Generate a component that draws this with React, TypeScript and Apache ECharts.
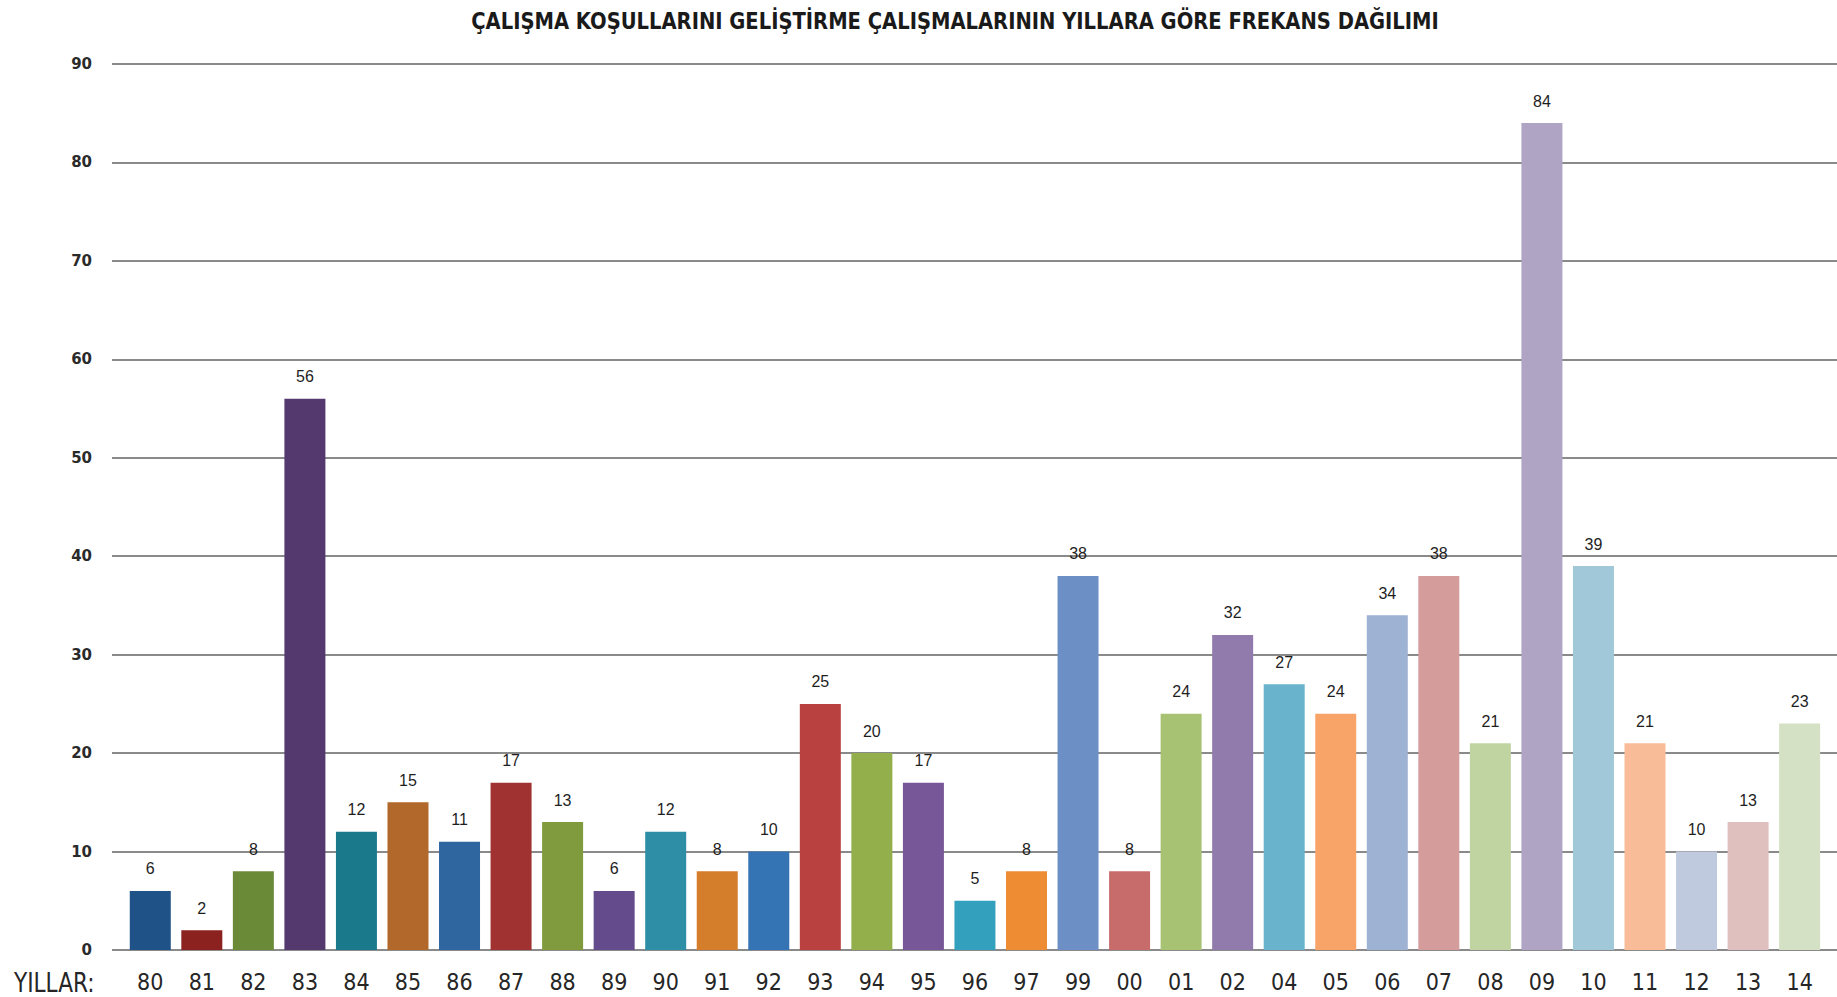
import React, { useEffect, useRef } from "react";
import * as echarts from "echarts";

const titleText = "ÇALIŞMA KOŞULLARINI GELİŞTİRME ÇALIŞMALARININ YILLARA GÖRE FREKANS DAĞILIMI";
const axisCaption = "YILLAR:";
const years = ["80","81","82","83","84","85","86","87","88","89","90","91","92","93","94","95","96","97","99","00","01","02","04","05","06","07","08","09","10","11","12","13","14"];
const counts = [6,2,8,56,12,15,11,17,13,6,12,8,10,25,20,17,5,8,38,8,24,32,27,24,34,38,21,84,39,21,10,13,23];
const barColors = [
  "#1F5287","#8B2220","#6B8A37","#53396E","#1A7A8C","#B2682A","#2F66A0","#A03331","#7F9B3E","#634B8C","#2E8EA6",
  "#D47D2A","#3574B4","#B94240","#93AF4C","#775797","#33A1BE","#EE8C34","#6C90C6","#C86C6B","#A8C274","#917BAC",
  "#69B4CC","#F8A468","#9EB2D4","#D49C9B","#C0D4A2","#AFA4C3","#A0C8D8","#F9BC99","#BFCADF","#E0BFBF","#D5E1C4"
];
const yMin = 0;
const yMax = 90;
const yStep = 10;

const narrow = "'Liberation Sans Narrow', 'DejaVu Sans Condensed', 'Liberation Sans', sans-serif";

export default function App() {
  const ref = useRef<HTMLDivElement>(null);
  useEffect(() => {
    if (!ref.current) return;
    const chart = echarts.init(ref.current, undefined, { renderer: "svg" });
    chart.setOption({
      animation: false,
      backgroundColor: "#ffffff",
      graphic: [
        {
          type: "text",
          x: 955,
          y: 9,
          scaleX: 0.945,
          style: {
            text: titleText,
            textAlign: "center",
            font: `bold 23px ${narrow}`,
            fill: "#1a1a1a",
          },
        },
        {
          type: "text",
          x: 14,
          y: 969,
          scaleX: 0.89,
          style: {
            text: axisCaption,
            font: `27px ${narrow}`,
            fill: "#262626",
          },
        },
      ],
      grid: [
        { left: 112, right: 0, top: 64, bottom: 47 },
        { left: 124.5, right: 11.6, top: 64, bottom: 47 },
      ],
      xAxis: [
        { type: "value", gridIndex: 0, show: false, min: 0, max: 1 },
        {
          type: "category",
          gridIndex: 1,
          data: years,
          axisLine: { show: false },
          axisTick: { show: false },
          axisLabel: {
            margin: 20,
            fontFamily: narrow,
            fontSize: 23,
            color: "#262626",
            interval: 0,
          },
        },
      ],
      yAxis: [
        {
          type: "value",
          gridIndex: 0,
          min: yMin,
          max: yMax,
          interval: yStep,
          axisLine: { show: false },
          axisTick: { show: false },
          axisLabel: {
            margin: 20,
            fontFamily: "'DejaVu Sans', sans-serif",
            fontWeight: "bold",
            fontSize: 15,
            color: "#2a2a2a",
          },
          splitLine: { lineStyle: { color: "#8a8a8a", width: 2 } },
        },
        {
          type: "value",
          gridIndex: 1,
          min: yMin,
          max: yMax,
          interval: yStep,
          show: false,
          splitLine: { show: false },
        },
      ],
      series: [
        {
          type: "bar",
          xAxisIndex: 1,
          yAxisIndex: 1,
          barWidth: 41,
          data: counts.map((v, i) => ({ value: v, itemStyle: { color: barColors[i] } })),
          label: {
            show: true,
            position: "top",
            distance: 14,
            fontFamily: "'Liberation Sans', sans-serif",
            fontSize: 16,
            color: "#1e1e1e",
          },
        },
      ],
    });
    return () => chart.dispose();
  }, []);
  return (
    <div
      ref={ref}
      style={{ position: "fixed", left: 0, top: 0, width: 1837, height: 997 }}
    />
  );
}
